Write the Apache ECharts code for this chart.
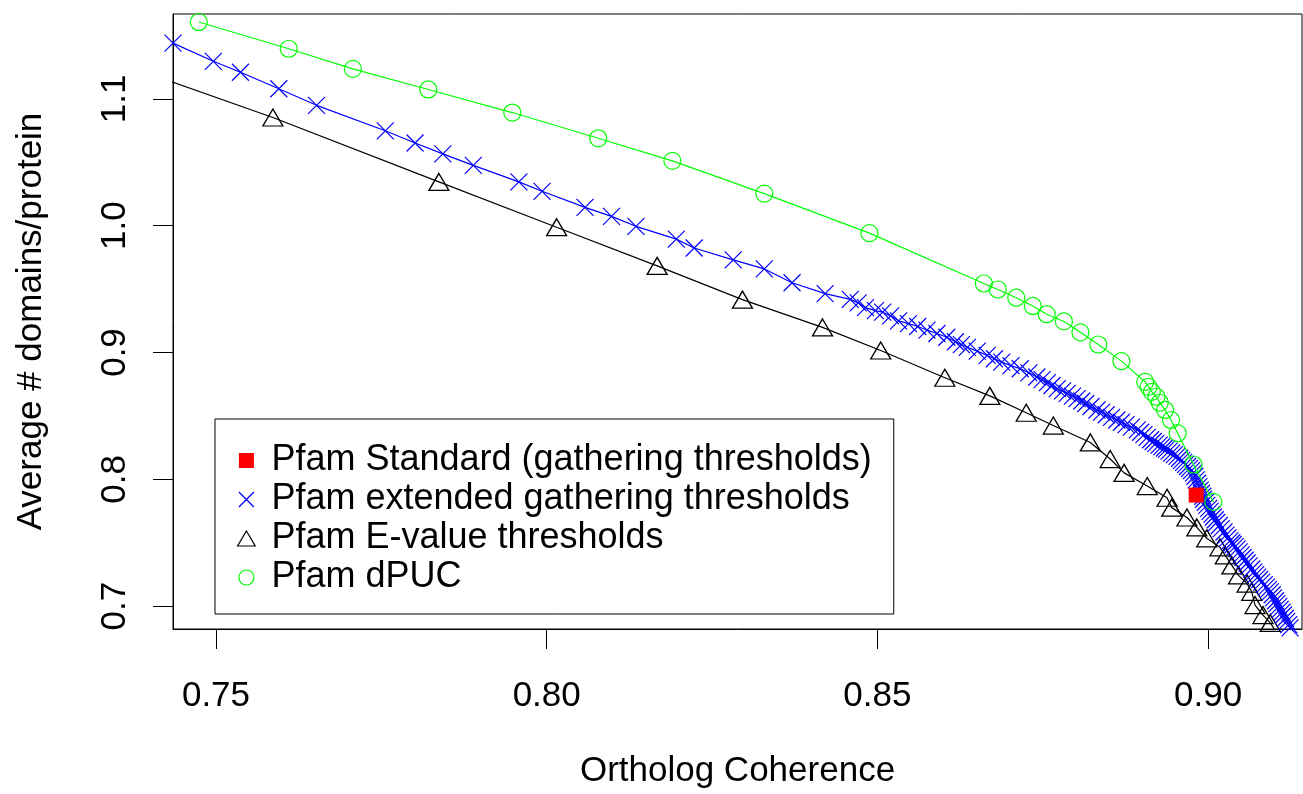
<!DOCTYPE html>
<html>
<head>
<meta charset="utf-8">
<script src="https://cdn.jsdelivr.net/npm/echarts@6/dist/echarts.min.js"></script>
<style>
html, body { margin: 0; padding: 0; background: #fff; }
#main { width: 1303px; height: 794px; }
</style>
</head>
<body>
<div id="main"></div>
<script>
// values
var xTicks = [0.75, 0.80, 0.85, 0.90];
var yTicks = [0.7, 0.8, 0.9, 1.0, 1.1];

var standardX = [0.8982];
var standardY = [0.7876];

var extendedX = [0.7435, 0.7496, 0.7537, 0.7595, 0.7652, 0.7756, 0.7801, 0.7843, 0.7889, 0.7958,
    0.7993, 0.8058, 0.8098, 0.8135, 0.8196, 0.8223, 0.8282, 0.8329, 0.8371, 0.8421,
    0.8459, 0.8471, 0.8482, 0.8497, 0.8508, 0.8520, 0.8532, 0.8547, 0.8561, 0.8575,
    0.8590, 0.8605, 0.8618, 0.8627, 0.8636, 0.8651, 0.8666, 0.8677, 0.8688, 0.8702,
    0.8716, 0.8729, 0.8741, 0.8749, 0.8757, 0.8764, 0.8772, 0.8780, 0.8787, 0.8795,
    0.8802, 0.8809, 0.8815, 0.8823, 0.8832, 0.8839, 0.8846, 0.8854, 0.8862, 0.8869,
    0.8876, 0.8884, 0.8893, 0.8898, 0.8903, 0.8908, 0.8913, 0.8917, 0.8921, 0.8926,
    0.8930, 0.8934, 0.8937, 0.8941, 0.8945, 0.8949, 0.8953, 0.8957, 0.8960, 0.8963,
    0.8966, 0.8969, 0.8972, 0.8975, 0.8978, 0.8980, 0.8982, 0.8984, 0.8986, 0.8988,
    0.8990, 0.8992, 0.8993, 0.8996, 0.8998, 0.9001, 0.9003, 0.9006, 0.9008, 0.9011,
    0.9013, 0.9017, 0.9020, 0.9024, 0.9027, 0.9030, 0.9033, 0.9036, 0.9038, 0.9041,
    0.9044, 0.9047, 0.9050, 0.9053, 0.9056, 0.9059, 0.9062, 0.9066, 0.9069, 0.9072,
    0.9075, 0.9078, 0.9081, 0.9085, 0.9088, 0.9091, 0.9094, 0.9097, 0.9099, 0.9102,
    0.9104, 0.9107, 0.9109, 0.9112, 0.9114, 0.9117, 0.9119, 0.9122, 0.9124, 0.9128,
    0.9132];
var extendedY = [1.1439, 1.1296, 1.1210, 1.1080, 1.0949, 1.0748, 1.0652, 1.0566, 1.0475, 1.0345,
    1.0271, 1.0144, 1.0073, 0.9995, 0.9894, 0.9824, 0.9730, 0.9659, 0.9550, 0.9464,
    0.9419, 0.9391, 0.9354, 0.9330, 0.9318, 0.9289, 0.9250, 0.9228, 0.9205, 0.9177,
    0.9150, 0.9120, 0.9085, 0.9062, 0.9041, 0.9011, 0.8977, 0.8951, 0.8924, 0.8897,
    0.8872, 0.8840, 0.8807, 0.8786, 0.8762, 0.8740, 0.8715, 0.8697, 0.8678, 0.8656,
    0.8637, 0.8618, 0.8598, 0.8574, 0.8547, 0.8530, 0.8509, 0.8489, 0.8468, 0.8450,
    0.8431, 0.8412, 0.8390, 0.8371, 0.8352, 0.8331, 0.8312, 0.8298, 0.8284, 0.8270,
    0.8258, 0.8247, 0.8236, 0.8222, 0.8207, 0.8195, 0.8181, 0.8166, 0.8150, 0.8134,
    0.8118, 0.8101, 0.8086, 0.8069, 0.8051, 0.8024, 0.7996, 0.7969, 0.7942, 0.7915,
    0.7890, 0.7867, 0.7843, 0.7819, 0.7795, 0.7771, 0.7748, 0.7726, 0.7703, 0.7681,
    0.7660, 0.7636, 0.7612, 0.7585, 0.7560, 0.7538, 0.7515, 0.7500, 0.7486, 0.7469,
    0.7452, 0.7428, 0.7405, 0.7384, 0.7362, 0.7340, 0.7318, 0.7293, 0.7269, 0.7249,
    0.7229, 0.7210, 0.7190, 0.7170, 0.7150, 0.7131, 0.7113, 0.7090, 0.7066, 0.7043,
    0.7020, 0.6998, 0.6975, 0.6953, 0.6930, 0.6905, 0.6880, 0.6854, 0.6829, 0.6782,
    0.6735];

var evalueX = [0.7400, 0.7586, 0.7837, 0.8015, 0.8167, 0.8296, 0.8417, 0.8505, 0.8602, 0.8670,
    0.8725, 0.8766, 0.8822, 0.8852, 0.8873, 0.8908, 0.8938, 0.8945, 0.8968, 0.8983,
    0.8998, 0.9018, 0.9026, 0.9036, 0.9046, 0.9059, 0.9066, 0.9071, 0.9083, 0.9094,
    0.9106];
var evalueY = [1.1195, 1.0853, 1.0345, 0.9988, 0.9683, 0.9417, 0.9198, 0.9016, 0.8801, 0.8658,
    0.8525, 0.8424, 0.8291, 0.8160, 0.8051, 0.7947, 0.7855, 0.7777, 0.7699, 0.7621,
    0.7535, 0.7464, 0.7400, 0.7321, 0.7243, 0.7178, 0.7113, 0.7009, 0.6930, 0.6868,
    0.6774];

var dpucX = [0.7474, 0.7610, 0.7707, 0.7821, 0.7948, 0.8078, 0.8190, 0.8329, 0.8488, 0.8661,
    0.8682, 0.8710, 0.8735, 0.8756, 0.8782, 0.8807, 0.8834, 0.8869, 0.8905, 0.8910,
    0.8915, 0.8922, 0.8927, 0.8935, 0.8944, 0.8954, 0.8978, 0.9008];
var dpucY = [1.1606, 1.1395, 1.1236, 1.1074, 1.0892, 1.0689, 1.0511, 1.0253, 0.9941, 0.9544,
    0.9497, 0.9432, 0.9367, 0.9302, 0.9245, 0.9159, 0.9063, 0.8932, 0.8768, 0.8729,
    0.8690, 0.8651, 0.8604, 0.8547, 0.8468, 0.8364, 0.8117, 0.7822];

function pairs(xs, ys) {
    var out = [];
    for (var i = 0; i < xs.length; i++) out.push([xs[i], ys[i]]);
    return out;
}

var crossPath = 'path://M0,0L10,10M10,0L0,10';
var triPath = 'path://M10,0L20,17L0,17Z';
var squarePath = 'path://M0,0L10,0L10,10L0,10Z';
var font = 'Liberation Sans';

var myChart = echarts.init(document.getElementById('main'));

option = {
    backgroundColor: '#ffffff',
    animation: false,
    textStyle: {fontFamily: font, color: '#000'},
    grid: {
        left: 173, top: 14, right: 1, bottom: 160,
        show: true, borderColor: '#000', borderWidth: 1
    },
    legend: {
        orient: 'vertical',
        left: 215, top: 419,
        padding: [22, 22, 17, 22],
        borderColor: '#000', borderWidth: 1,
        backgroundColor: '#fff',
        itemWidth: 40, itemHeight: 15, itemGap: 0,
        symbolKeepAspect: true,
        selectedMode: false,
        textStyle: {fontSize: 36, fontFamily: font, color: '#000', lineHeight: 39},
        data: [
            {name: 'Pfam Standard (gathering thresholds)', icon: squarePath,
                itemStyle: {color: '#ff0000', borderWidth: 0, opacity: 1}},
            {name: 'Pfam extended gathering thresholds', icon: crossPath,
                itemStyle: {color: 'transparent', borderColor: '#0000ff', borderWidth: 1.2}},
            {name: 'Pfam E-value thresholds', icon: triPath,
                itemStyle: {color: 'transparent', borderColor: '#000', borderWidth: 1.2}},
            {name: 'Pfam dPUC', icon: 'circle',
                itemStyle: {color: 'transparent', borderColor: '#00ff00', borderWidth: 1.2}}
        ]
    },
    xAxis: {
        type: 'value',
        min: 0.7435, max: 0.9142,
        name: 'Ortholog Coherence',
        nameLocation: 'middle', nameGap: 125,
        nameTextStyle: {fontSize: 35, fontFamily: font, color: '#000'},
        axisLine: {show: true, lineStyle: {color: '#000', width: 1}},
        axisTick: {show: true, length: 20, customValues: xTicks, lineStyle: {color: '#000'}},
        axisLabel: {
            customValues: xTicks, margin: 50, fontSize: 35, color: '#000',
            formatter: function (v) { return v.toFixed(2); }
        },
        splitLine: {show: false}
    },
    yAxis: {
        type: 'value',
        min: 0.682, max: 1.1669,
        name: 'Average # domains/protein',
        nameLocation: 'middle', nameGap: 124,
        nameTextStyle: {fontSize: 35, fontFamily: font, color: '#000'},
        axisLine: {show: true, lineStyle: {color: '#000', width: 1}},
        axisTick: {show: true, length: 20, customValues: yTicks, lineStyle: {color: '#000'}},
        axisLabel: {
            customValues: yTicks, margin: 40, fontSize: 35, color: '#000', rotate: 90,
            formatter: function (v) { return v.toFixed(1); }
        },
        splitLine: {show: false}
    },
    series: [
        {
            name: 'Pfam E-value thresholds',
            type: 'line', z: 2,
            data: pairs(evalueX, evalueY),
            showAllSymbol: true,
            symbol: triPath, symbolSize: [20, 17],
            lineStyle: {color: '#000', width: 1.2},
            itemStyle: {color: 'transparent', borderColor: '#000', borderWidth: 1.3}
        },
        {
            name: 'Pfam extended gathering thresholds',
            type: 'line', z: 3,
            data: pairs(extendedX, extendedY),
            showAllSymbol: true,
            symbol: crossPath, symbolSize: 17,
            lineStyle: {color: '#0000ff', width: 1.2},
            itemStyle: {color: 'transparent', borderColor: '#0000ff', borderWidth: 1.2}
        },
        {
            name: 'Pfam dPUC',
            type: 'line', z: 4,
            data: pairs(dpucX, dpucY),
            showAllSymbol: true,
            symbol: 'circle', symbolSize: 17,
            lineStyle: {color: '#00ff00', width: 1.2},
            itemStyle: {color: 'transparent', borderColor: '#00ff00', borderWidth: 1.2}
        },
        {
            name: 'Pfam Standard (gathering thresholds)',
            type: 'scatter', z: 5,
            data: pairs(standardX, standardY),
            symbol: 'rect', symbolSize: 15,
            itemStyle: {color: '#ff0000', opacity: 1}
        }
    ]
};

if (option && typeof option === "object") {
    myChart.setOption(option, true);
}
</script>
</body>
</html>
